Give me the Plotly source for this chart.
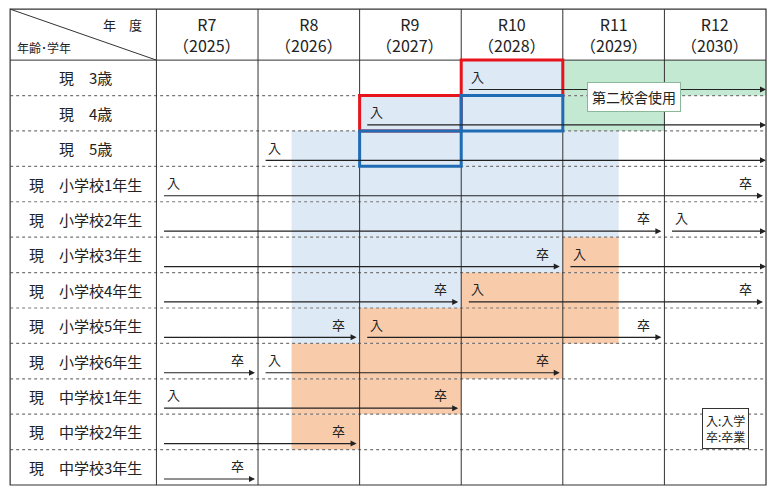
import plotly.graph_objects as go

# filas y columnas
filas = ["現　3歳", "現　4歳", "現　5歳", "現　小学校1年生", "現　小学校2年生", "現　小学校3年生",
         "現　小学校4年生", "現　小学校5年生", "現　小学校6年生", "現　中学校1年生",
         "現　中学校2年生", "現　中学校3年生"]
anios = ["R7<br>（2025）", "R8<br>（2026）", "R9<br>（2027）", "R10<br>（2028）",
         "R11<br>（2029）", "R12<br>（2030）"]

# sombreado: (fila, desde, hasta) en unidades de columna
azul = [(0, 3, 4), (1, 2, 4), (2, 1.33, 4.55), (3, 1.33, 4.55), (4, 1.33, 4.55),
        (5, 1.33, 4), (6, 1.33, 3), (7, 1.33, 2)]
naranja = [(5, 4, 4.55), (6, 3, 4.55), (7, 2, 4.55), (8, 1.33, 4), (9, 1.33, 3), (10, 1.33, 2)]
verde = [(0, 4, 6), (1, 4, 5)]

# flechas: (fila, inicio, fin, 入, 卒)
flechas = [(0, 3, 6, True, False), (1, 2, 6, True, False), (2, 1, 6, True, False),
           (3, 0, 6, True, True), (4, 0, 5, False, True), (4, 5, 6, True, False),
           (5, 0, 4, False, True), (5, 4, 6, True, False), (6, 0, 3, False, True),
           (6, 3, 6, True, True), (7, 0, 2, False, True), (7, 2, 5, True, True),
           (8, 0, 1, False, True), (8, 1, 4, True, True), (9, 0, 3, True, True),
           (10, 0, 2, False, True), (11, 0, 1, False, True)]

cajas_rojas = [(0, 3), (1, 2)]
cajas_azules = [(1, 3), (2, 2)]

IZQ = -1.44
CAB = -1.44
FUENTE = "Noto Sans CJK JP"

fig = go.Figure()
shapes = []
ann = []

def rect(x0, x1, y0, y1, color):
    shapes.append(dict(type="rect", x0=x0, x1=x1, y0=y0, y1=y1, fillcolor=color,
                       line=dict(width=0), layer="below"))

for f, a, b in azul:
    rect(a, b, f, f + 1, "#dde9f5")
for f, a, b in naranja:
    rect(a, b, f, f + 1, "#f8cbab")
for f, a, b in verde:
    rect(a, b, f, f + 1, "#c4e9d2")

# lineas punteadas entre filas
for i in range(1, 12):
    shapes.append(dict(type="line", x0=IZQ, x1=6, y0=i, y1=i,
                       line=dict(color="#777", width=1.2, dash="dot")))
# lineas verticales
for c in range(0, 6):
    shapes.append(dict(type="line", x0=c, x1=c, y0=CAB, y1=12, line=dict(color="#333", width=1)))
shapes.append(dict(type="line", x0=IZQ, x1=6, y0=0, y1=0, line=dict(color="#333", width=1)))
shapes.append(dict(type="rect", x0=IZQ, x1=6, y0=CAB, y1=12, line=dict(color="#333", width=1.2)))
shapes.append(dict(type="line", x0=IZQ, x1=0, y0=CAB, y1=0, line=dict(color="#333", width=1)))

for f, c in cajas_rojas:
    shapes.append(dict(type="rect", x0=c, x1=c + 1, y0=f, y1=f + 1, line=dict(color="#e8141c", width=3)))
for f, c in cajas_azules:
    shapes.append(dict(type="rect", x0=c, x1=c + 1, y0=f, y1=f + 1, line=dict(color="#1f6cb5", width=3)))

# textos de filas y cabecera
for i, t in enumerate(filas):
    ann.append(dict(x=IZQ / 2 + 0.02, y=i + 0.5, text=t, showarrow=False, font=dict(size=15)))
for j, t in enumerate(anios):
    ann.append(dict(x=j + 0.5, y=CAB / 2, text=t, showarrow=False, font=dict(size=16)))
ann.append(dict(x=-0.12, y=CAB * 0.7, text="年　度", showarrow=False, xanchor="right", font=dict(size=13)))
ann.append(dict(x=IZQ + 0.05, y=CAB * 0.25, text="年齢･学年", showarrow=False, xanchor="left", font=dict(size=12)))

# flechas
for f, a, b, ent, grad in flechas:
    y = f + 0.83
    fin = b - 0.03 if grad else b
    ann.append(dict(x=fin, y=y, ax=a + 0.06, ay=y, xref="x", yref="y", axref="x", ayref="y",
                    text="", showarrow=True, arrowhead=2, arrowsize=1, arrowwidth=1.2,
                    arrowcolor="#222"))
    if ent:
        ann.append(dict(x=a + 0.08, y=y - 0.05, text="入", showarrow=False, xanchor="left",
                        yanchor="bottom", font=dict(size=13)))
    if grad:
        ann.append(dict(x=b - 0.12, y=y - 0.05, text="卒", showarrow=False, xanchor="right",
                        yanchor="bottom", font=dict(size=13)))

ann.append(dict(x=4.7, y=1.03, text="第二校舎使用", showarrow=False, bgcolor="white",
                bordercolor="#8cb89a", borderwidth=1, borderpad=4, font=dict(size=14)))
ann.append(dict(x=5.6, y=10.4, text="入:入学<br>卒:卒業", showarrow=False, bgcolor="white",
                bordercolor="#333", borderwidth=1, borderpad=3, align="left", font=dict(size=12)))

fig.update_layout(
    width=764, height=479, margin=dict(l=0, r=0, t=0, b=0),
    plot_bgcolor="white", paper_bgcolor="white",
    font=dict(family=FUENTE, color="#222"),
    shapes=shapes, annotations=ann, showlegend=False,
    xaxis=dict(range=[-1.461, 6.059], visible=False, fixedrange=True),
    yaxis=dict(range=[12.056, -1.472], visible=False, fixedrange=True),
)

fig.write_html("out.html")
